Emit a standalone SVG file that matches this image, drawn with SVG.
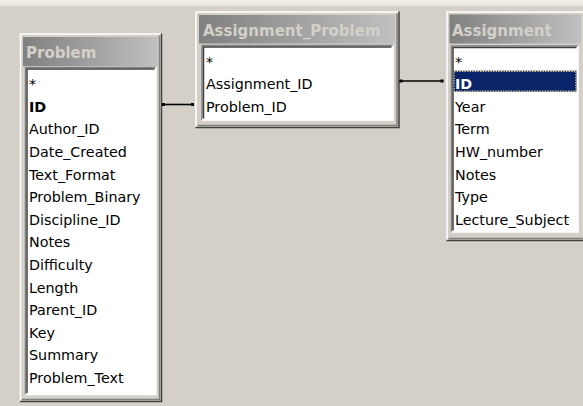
<svg xmlns="http://www.w3.org/2000/svg" width="583" height="406" viewBox="0 0 583 406">
  <defs>
    <linearGradient id="caption" x1="0" y1="0" x2="1" y2="0">
      <stop offset="0" stop-color="#808080"/>
      <stop offset="1" stop-color="#C0C0C0"/>
    </linearGradient>
    <linearGradient id="topband" x1="0" y1="0" x2="0" y2="1">
      <stop offset="0" stop-color="#EEEDE9"/>
      <stop offset="0.7" stop-color="#EBE9E4"/>
      <stop offset="1" stop-color="#D4D0C8"/>
    </linearGradient>
    <style>
      .frame { fill: #D4D0C8; }
      .lt { fill: none; stroke: #FFFFFF; stroke-width: 1.5; }
      .dk { fill: none; stroke: #404040; stroke-width: 1.5; }
      .md { fill: none; stroke: #808080; stroke-width: 1.5; }
      .face { fill: none; stroke: #D4D0C8; stroke-width: 1.5; }
      .list { fill: #FFFFFF; }
      .cap { fill: url(#caption); }
      .ttl { font-family: "DejaVu Sans", Verdana, sans-serif; font-weight: bold; font-size: 15px; fill: #D4D0C8; }
      .row { font-family: "DejaVu Sans", Verdana, sans-serif; font-size: 14.3px; fill: #000000; }
      .key { font-weight: bold; }
      .sel { fill: #0A246A; }
      .focus { fill: none; stroke: #F2D98C; stroke-width: 1.2; stroke-dasharray: 1.3 1.3; }
      .selText { fill: #FFFFFF; }
      .join { stroke: #000000; stroke-width: 1.6; fill: none; }
      .dot { fill: #000000; }
    </style>
  </defs>

  <!-- workspace -->
  <rect x="0" y="0" width="583" height="406" fill="#D4D0C8"/>
  <rect x="0" y="0" width="583" height="7" fill="url(#topband)"/>

  <!-- table: Problem -->
  <g id="node-problem">
    <rect class="frame" x="20" y="33.5" width="141.5" height="368"/>
    <path class="lt" d="M20.5 401 V34 H161"/>
    <path class="dk" d="M20 401.5 H161.5 V33.5"/>
    <path class="md" d="M22 399.5 H159.5 V35.5"/>
    <rect class="cap" x="23" y="37" width="135" height="29"/>
    <text class="ttl" x="26" y="57.5">Problem</text>
    <rect class="list" x="25.5" y="67.5" width="130.5" height="327"/>
    <path class="md" d="M25.5 394.5 V67.5 H156"/>
    <path class="dk" d="M27 393 V69 H154.5"/>
    <path class="lt" d="M25.5 394.5 H156 V67.5"/>
    <g class="row">
      <text x="29" y="89.2">*</text>
      <text class="key" x="29" y="111.8">ID</text>
      <text x="29" y="134.4">Author_ID</text>
      <text x="29" y="157">Date_Created</text>
      <text x="29" y="179.6">Text_Format</text>
      <text x="29" y="202.2">Problem_Binary</text>
      <text x="29" y="224.8">Discipline_ID</text>
      <text x="29" y="247.4">Notes</text>
      <text x="29" y="270">Difficulty</text>
      <text x="29" y="292.6">Length</text>
      <text x="29" y="315.2">Parent_ID</text>
      <text x="29" y="337.8">Key</text>
      <text x="29" y="360.4">Summary</text>
      <text x="29" y="383">Problem_Text</text>
    </g>
  </g>

  <!-- table: Assignment_Problem -->
  <g id="node-assignment-problem">
    <rect class="frame" x="195.5" y="11.5" width="203.5" height="116"/>
    <path class="lt" d="M196 127 V12 H398.5"/>
    <path class="dk" d="M195.5 127.5 H399 V11.5"/>
    <path class="md" d="M197.5 125.5 H397 V13.5"/>
    <rect class="cap" x="199" y="15" width="196" height="28.5"/>
    <text class="ttl" x="203" y="35.5">Assignment_Problem</text>
    <rect class="list" x="202" y="45.5" width="191" height="74.5"/>
    <path class="md" d="M202 120 V45.5 H393"/>
    <path class="dk" d="M203.5 118.5 V47 H391.5"/>
    <path class="lt" d="M202 120 H393 V45.5"/>
    <g class="row">
      <text x="206" y="66.5">*</text>
      <text x="206" y="89.1">Assignment_ID</text>
      <text x="206" y="111.7">Problem_ID</text>
    </g>
  </g>

  <!-- table: Assignment -->
  <g id="node-assignment">
    <rect class="frame" x="446.5" y="11.5" width="140" height="229"/>
    <path class="lt" d="M447 240 V12 H590"/>
    <path class="dk" d="M446.5 240.5 H590"/>
    <path class="md" d="M448.5 238.5 H590"/>
    <rect class="cap" x="449.5" y="14.5" width="131.5" height="29"/>
    <text class="ttl" x="452" y="36">Assignment</text>
    <rect class="list" x="451.5" y="46" width="126.5" height="186"/>
    <path class="md" d="M451.5 232 V46 H578"/>
    <path class="dk" d="M453 230.5 V47.5 H576.5"/>
    <path class="lt" d="M451.5 232 H578 V46"/>
    <rect class="sel" x="453.5" y="70.7" width="123" height="21"/>
    <rect class="focus" x="454.1" y="71.3" width="121.8" height="19.8"/>
    <g class="row">
      <text x="455" y="66.5">*</text>
      <text class="key selText" x="455" y="89.1">ID</text>
      <text x="455" y="111.7">Year</text>
      <text x="455" y="134.3">Term</text>
      <text x="455" y="156.9">HW_number</text>
      <text x="455" y="179.5">Notes</text>
      <text x="455" y="202.1">Type</text>
      <text x="455" y="224.7">Lecture_Subject</text>
    </g>
  </g>

  <!-- relationship lines -->
  <g id="connectors">
    <line class="join" x1="162.5" y1="104.5" x2="193.5" y2="104.5"/>
    <rect class="dot" x="162" y="103" width="3" height="3"/>
    <rect class="dot" x="191" y="103" width="3" height="3"/>
    <line class="join" x1="399.5" y1="81" x2="443.5" y2="81"/>
    <rect class="dot" x="399.5" y="79.5" width="3" height="3"/>
    <rect class="dot" x="440.5" y="79.5" width="3" height="3"/>
  </g>
</svg>
